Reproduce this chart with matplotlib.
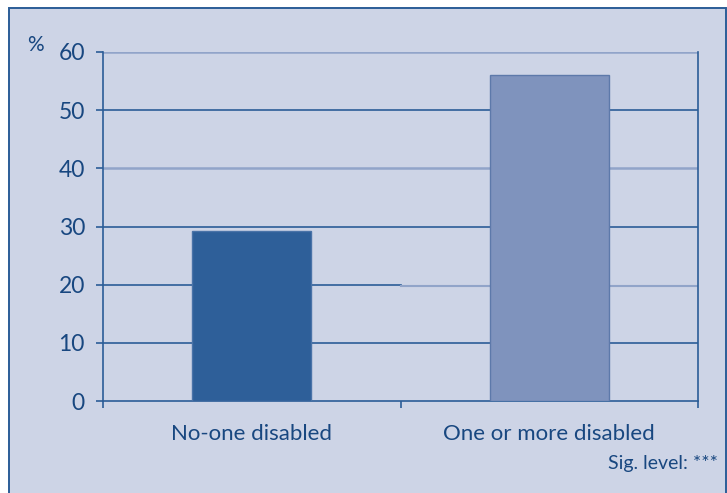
import matplotlib.pyplot as plt
from matplotlib.patches import Rectangle

categories = ["No-one disabled", "One or more disabled"]
values = [29.2, 56.0]
yticks = [0, 10, 20, 30, 40, 50, 60]

plt.rcParams['font.family'] = ['Lato', 'DejaVu Sans']

dark = "#2b5d97"
light = "#91a4c9"
txt = "#184780"

fig = plt.figure(figsize=(7.27, 4.93), dpi=100)
fig.patch.set_facecolor("white")

# outer panel, behind the axes
panel = Rectangle((9 / 727, -0.02), 717 / 727, 1 - 8 / 493 + 0.02,
                  transform=fig.transFigure, facecolor="#cdd4e6",
                  edgecolor=dark, linewidth=1.4, zorder=-10)
fig.patches.append(panel)

ax = fig.add_axes([103 / 727, 1 - 401 / 493, 595 / 727, 349 / 493])
ax.set_facecolor("none")

x = [0.5, 1.5]
ax.bar(x[0], values[0], width=0.40, color="#2e5f99", edgecolor="#4a73a8", linewidth=1, zorder=3)
ax.bar(x[1], values[1], width=0.40, color="#7f93bd", edgecolor="#5d79aa", linewidth=1, zorder=3)

ax.set_xlim(0, 2)
ax.set_ylim(0, 60)

# gridlines: alternating shades, 20 split in two
for y in [10, 30, 50]:
    ax.axhline(y, color=dark, linewidth=1.2, zorder=1)
for y in [40, 60]:
    ax.axhline(y, color=light, linewidth=1.8, zorder=1)
ax.axhline(20, xmin=0, xmax=0.5, color=dark, linewidth=1.2, zorder=1)
ax.axhline(19.8, xmin=0.5, xmax=1, color=light, linewidth=1.5, zorder=1)

for s in ["left", "right", "bottom"]:
    ax.spines[s].set_color(dark)
    ax.spines[s].set_linewidth(1.2)
ax.spines["top"].set_visible(False)

ax.set_yticks(yticks)
ax.set_yticklabels([str(v) for v in yticks])
ax.set_xticks([0, 1, 2])
ax.set_xticklabels([])
ax.tick_params(axis="y", colors=dark, labelcolor=txt, labelsize=16.5, length=5, width=1.2, pad=8)
ax.tick_params(axis="x", colors=dark, length=5, width=1.2)

for xi, lab in zip(x, categories):
    ax.text(xi, -5.6, lab, ha="center", va="center", fontsize=16, color=txt)

fig.text(35 / 727, 1 - 45 / 493, "%", ha="center", va="center", fontsize=15, color=txt)
fig.text(718 / 727, 1 - 464 / 493, "Sig. level: ***", ha="right", va="center", fontsize=14, color=txt)

fig.savefig("out.png", dpi=100)
